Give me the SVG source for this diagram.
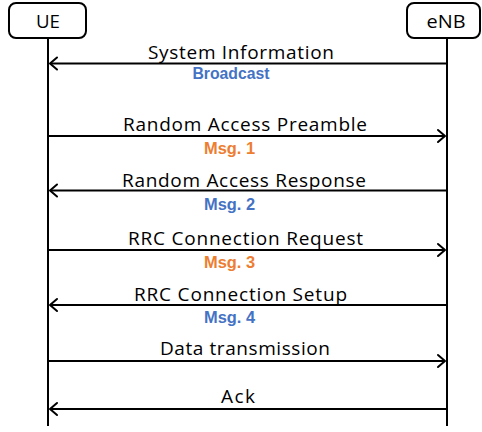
<svg xmlns="http://www.w3.org/2000/svg" width="482" height="432" viewBox="0 0 482 432">
  <defs>
    <style>
      .box { fill: #ffffff; stroke: #000000; stroke-width: 2; }
      .life { stroke: #000000; stroke-width: 2; fill: none; }
      .msg { stroke: #000000; stroke-width: 2; fill: none; }
      .head { stroke: #000000; stroke-width: 2; fill: none; stroke-linecap: round; stroke-linejoin: round; }
      .lbl { font-family: "Open Sans", "Liberation Sans", sans-serif; font-size: 19px; fill: #000000; }
      .tag { font-family: "Liberation Sans", "Open Sans", sans-serif; font-size: 16px; font-weight: bold; }
      .blue { fill: #4472C4; }
      .orange { fill: #ED7D31; }
    </style>
  </defs>

  <!-- participants -->
  <g id="ue">
    <rect class="box" x="9" y="3" width="77" height="35" rx="7" ry="7"/>
    <text class="lbl" x="48" y="28" text-anchor="middle" textLength="24" lengthAdjust="spacingAndGlyphs">UE</text>
  </g>
  <g id="enb">
    <rect class="box" x="407" y="3" width="73" height="35" rx="7" ry="7"/>
    <text class="lbl" x="446" y="28" text-anchor="middle" textLength="39" lengthAdjust="spacingAndGlyphs">eNB</text>
  </g>

  <!-- lifelines and messages -->
  <g id="connectors">
    <line class="life" x1="48" y1="38" x2="48" y2="426"/>
    <line class="life" x1="447" y1="38" x2="447" y2="426"/>

    <!-- eNB -> UE -->
    <line class="msg" x1="447" y1="63.5" x2="50" y2="63.5"/>
    <polyline class="head" points="57,57.5 50,63.5 57,69.5"/>
    <!-- UE -> eNB -->
    <line class="msg" x1="48" y1="136" x2="445" y2="136"/>
    <polyline class="head" points="438,130 445,136 438,142"/>
    <!-- eNB -> UE -->
    <line class="msg" x1="447" y1="190.5" x2="50" y2="190.5"/>
    <polyline class="head" points="57,184.5 50,190.5 57,196.5"/>
    <!-- UE -> eNB -->
    <line class="msg" x1="48" y1="250" x2="445" y2="250"/>
    <polyline class="head" points="438,244 445,250 438,256"/>
    <!-- eNB -> UE -->
    <line class="msg" x1="447" y1="305" x2="50" y2="305"/>
    <polyline class="head" points="57,299 50,305 57,311"/>
    <!-- UE -> eNB -->
    <line class="msg" x1="48" y1="361" x2="445" y2="361"/>
    <polyline class="head" points="438,355 445,361 438,367"/>
    <!-- eNB -> UE -->
    <line class="msg" x1="447" y1="409" x2="50" y2="409"/>
    <polyline class="head" points="57,403 50,409 57,415"/>
  </g>

  <!-- message labels -->
  <g id="labels">
    <text class="lbl" x="241" y="59" text-anchor="middle" textLength="186" lengthAdjust="spacing">System Information</text>
    <text class="tag blue" x="231" y="79" text-anchor="middle" textLength="77" lengthAdjust="spacingAndGlyphs">Broadcast</text>

    <text class="lbl" x="245" y="131" text-anchor="middle" textLength="244" lengthAdjust="spacing">Random Access Preamble</text>
    <text class="tag orange" x="229.5" y="154" text-anchor="middle" textLength="51" lengthAdjust="spacingAndGlyphs">Msg. 1</text>

    <text class="lbl" x="244" y="186.5" text-anchor="middle" textLength="244" lengthAdjust="spacing">Random Access Response</text>
    <text class="tag blue" x="229.5" y="210" text-anchor="middle" textLength="51" lengthAdjust="spacingAndGlyphs">Msg. 2</text>

    <text class="lbl" x="245.5" y="245" text-anchor="middle" textLength="235" lengthAdjust="spacing">RRC Connection Request</text>
    <text class="tag orange" x="229.5" y="268" text-anchor="middle" textLength="51" lengthAdjust="spacingAndGlyphs">Msg. 3</text>

    <text class="lbl" x="240.5" y="300.5" text-anchor="middle" textLength="213" lengthAdjust="spacing">RRC Connection Setup</text>
    <text class="tag blue" x="229.5" y="322.5" text-anchor="middle" textLength="51" lengthAdjust="spacingAndGlyphs">Msg. 4</text>

    <text class="lbl" x="245" y="355" text-anchor="middle" textLength="170" lengthAdjust="spacing">Data transmission</text>

    <text class="lbl" x="238" y="402.5" text-anchor="middle" textLength="34" lengthAdjust="spacing">Ack</text>
  </g>
</svg>
